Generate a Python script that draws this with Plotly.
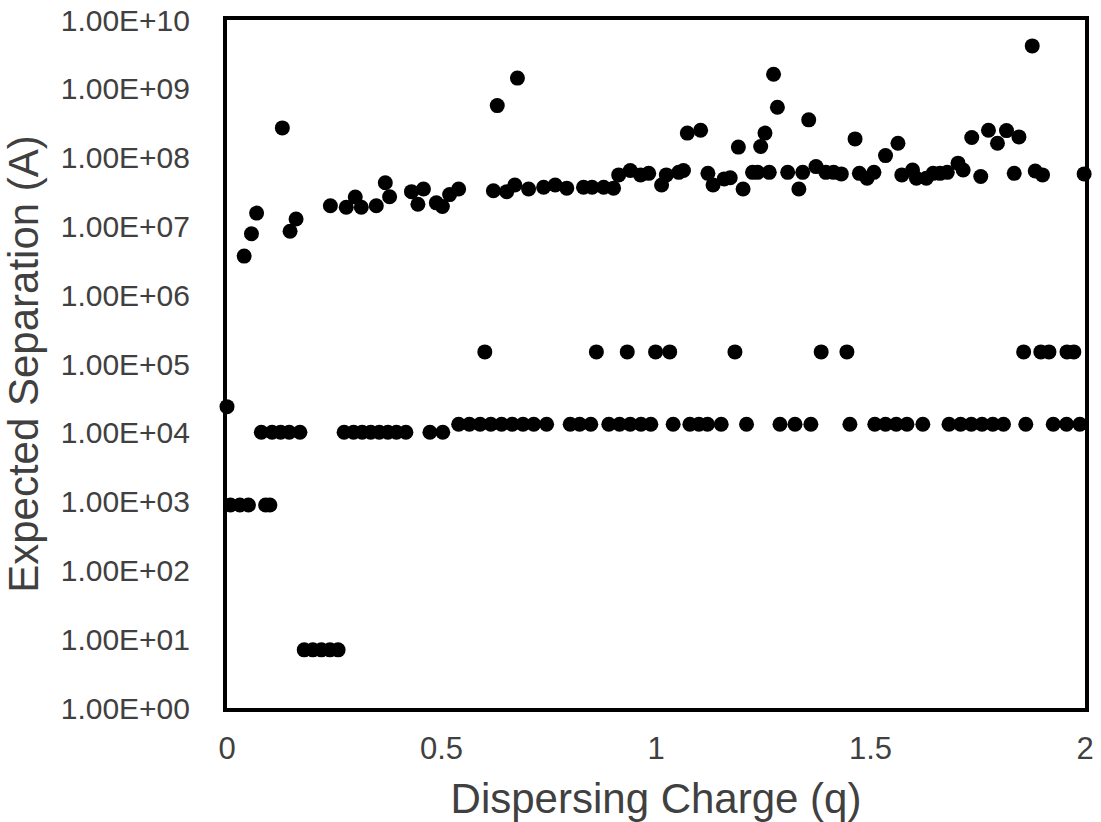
import plotly.graph_objects as go

# ---- data (x = dispersing charge q, y = expected separation A) ----
upper_q = [0.040, 0.057, 0.069, 0.129, 0.147, 0.161, 0.241, 0.278, 0.299, 0.313, 0.348, 0.369,
           0.379, 0.430, 0.445, 0.458, 0.488, 0.502, 0.519, 0.540, 0.621, 0.630, 0.652, 0.671,
           0.677, 0.703, 0.738, 0.765, 0.792, 0.831, 0.851, 0.878, 0.901, 0.913, 0.940, 0.964,
           0.983, 1.013, 1.024, 1.053, 1.064, 1.073, 1.104, 1.121, 1.133, 1.159, 1.173, 1.192,
           1.203, 1.225, 1.237, 1.244, 1.254, 1.264, 1.274, 1.283, 1.307, 1.333, 1.342, 1.356,
           1.373, 1.396, 1.414, 1.432, 1.464, 1.474, 1.492, 1.508, 1.535, 1.564, 1.573, 1.598,
           1.607, 1.630, 1.646, 1.662, 1.679, 1.704, 1.716, 1.736, 1.757, 1.775, 1.796, 1.817,
           1.835, 1.846, 1.877, 1.884, 1.901, 1.998]
upper_sep = [3.7e6, 7.8e6, 1.56e7, 2.7e8, 8.5e6, 1.28e7, 2.0e7, 1.9e7, 2.67e7, 1.9e7, 2.0e7, 4.3e7,
             2.7e7, 3.2e7, 2.1e7, 3.5e7, 2.2e7, 1.95e7, 2.9e7, 3.5e7, 3.3e7, 5.7e8, 3.2e7, 4.0e7,
             1.43e9, 3.5e7, 3.7e7, 4.0e7, 3.6e7, 3.7e7, 3.7e7, 3.7e7, 3.6e7, 5.6e7, 6.5e7, 5.6e7,
             5.9e7, 4.0e7, 5.6e7, 6.1e7, 6.5e7, 2.27e8, 2.5e8, 5.9e7, 4.0e7, 4.9e7, 5.1e7, 1.42e8,
             3.5e7, 6.1e7, 6.1e7, 1.45e8, 2.27e8, 6.1e7, 1.63e9, 5.4e8, 6.1e7, 3.5e7, 6.1e7, 3.54e8,
             7.4e7, 6.1e7, 6.1e7, 5.8e7, 1.87e8, 5.9e7, 5.0e7, 6.1e7, 1.07e8, 1.62e8, 5.6e7, 6.6e7,
             5.0e7, 5.0e7, 5.9e7, 5.9e7, 6.1e7, 8.3e7, 6.6e7, 1.96e8, 5.3e7, 2.5e8, 1.62e8, 2.47e8,
             5.9e7, 2.0e8, 4.2e9, 6.4e7, 5.6e7, 5.8e7]

mid_q = [0.601, 0.861, 0.933, 0.999, 1.032, 1.184, 1.385, 1.445, 1.857, 1.897, 1.916, 1.958, 1.974]
mid_sep = [1.5e5] * len(mid_q)

band1e4_q = [0.0, 0.080, 0.105, 0.125, 0.145, 0.170, 0.273, 0.295, 0.315, 0.335, 0.355, 0.375,
             0.395, 0.417, 0.473, 0.503]
band1e4_sep = [2.4e4, 1.02e4, 1.02e4, 1.02e4, 1.02e4, 1.02e4, 1.02e4, 1.02e4, 1.02e4, 1.02e4,
               1.02e4, 1.02e4, 1.02e4, 1.02e4, 1.02e4, 1.02e4]

band13e3_q = [0.540, 0.565, 0.590, 0.615, 0.640, 0.665, 0.690, 0.715, 0.745, 0.800, 0.822, 0.848,
              0.890, 0.915, 0.940, 0.965, 0.988, 1.040, 1.079, 1.100, 1.120, 1.152, 1.211, 1.289,
              1.324, 1.361, 1.452, 1.510, 1.535, 1.560, 1.585, 1.622, 1.683, 1.710, 1.735, 1.760,
              1.785, 1.810, 1.862, 1.926, 1.957, 1.988]
band13e3_sep = [1.33e4] * len(band13e3_q)

low_q = [0.008, 0.030, 0.050, 0.090, 0.100, 0.180, 0.200, 0.220, 0.240, 0.259]
low_sep = [894, 894, 894, 894, 894, 7.0, 7.0, 7.0, 7.0, 7.0]

y_tickvals = [1e0, 1e1, 1e2, 1e3, 1e4, 1e5, 1e6, 1e7, 1e8, 1e9, 1e10]
y_ticktext = ["1.00E+00", "1.00E+01", "1.00E+02", "1.00E+03", "1.00E+04", "1.00E+05",
              "1.00E+06", "1.00E+07", "1.00E+08", "1.00E+09", "1.00E+10"]
x_tickvals = [0, 0.5, 1, 1.5, 2]
x_ticktext = ["0", "0.5", "1", "1.5", "2"]

charge = upper_q + mid_q + band1e4_q + band13e3_q + low_q
separation = upper_sep + mid_sep + band1e4_sep + band13e3_sep + low_sep

FONT = "Liberation Sans, Arial, sans-serif"
TXT = "#404040"

fig = go.Figure(go.Scatter(
    x=charge, y=separation, mode="markers",
    marker=dict(color="black", size=15, line=dict(width=0)),
    cliponaxis=False, showlegend=False,
))

fig.update_layout(
    width=1101, height=822,
    margin=dict(l=227, r=16, t=20, b=114),
    paper_bgcolor="white", plot_bgcolor="white",
    font=dict(family=FONT, color=TXT),
)
fig.update_xaxes(
    range=[0, 2], tickvals=x_tickvals, ticktext=x_ticktext, automargin=False,
    showgrid=False, zeroline=False, ticks="",
    showline=True, mirror=True, linewidth=4, linecolor="black",
    tickfont=dict(size=31, family=FONT, color=TXT), ticklabelstandoff=10,
    title=dict(text="Dispersing Charge (q)", font=dict(size=42, family=FONT, color=TXT), standoff=19),
)
fig.update_yaxes(
    type="log", range=[0, 10], tickvals=y_tickvals, ticktext=y_ticktext, automargin=False,
    showgrid=False, zeroline=False, ticks="",
    showline=True, mirror=True, linewidth=4, linecolor="black",
    tickfont=dict(size=30, family=FONT, color=TXT), ticklabelstandoff=27,
    title=dict(text="Expected Separation (A)", font=dict(size=42, family=FONT, color=TXT), standoff=12),
)

fig.write_html("out.html")
